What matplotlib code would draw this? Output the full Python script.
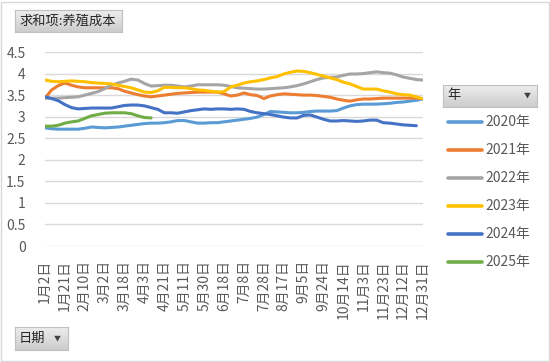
import numpy as np
import matplotlib
matplotlib.use('Agg')
import matplotlib.pyplot as plt
from matplotlib.patches import Rectangle
from matplotlib.lines import Line2D

plt.rcParams['font.family'] = ['Noto Sans CJK SC', 'DejaVu Sans']

# date labels shown on the axis (one every 3 points)
tick_labels = ['1月2日', '1月21日', '2月10日', '3月2日', '3月18日', '4月3日', '4月21日',
               '5月11日', '5月30日', '6月18日', '7月8日', '7月28日', '8月17日', '9月5日',
               '9月24日', '10月14日', '11月3日', '11月23日', '12月12日', '12月31日']
step = 3

years = ['2020年', '2021年', '2022年', '2023年', '2024年', '2025年']
colors = ['#5B9BD5', '#ED7D31', '#A5A5A5', '#FFC000', '#4472C4', '#70AD47']

y2020 = [2.74, 2.72, 2.71, 2.71, 2.71, 2.71, 2.73, 2.76, 2.75, 2.74, 2.75, 2.76, 2.78, 2.80,
         2.82, 2.84, 2.85, 2.85, 2.86, 2.88, 2.91, 2.91, 2.88, 2.85, 2.85, 2.86, 2.86, 2.88,
         2.90, 2.92, 2.94, 2.96, 2.99, 3.05, 3.12, 3.11, 3.10, 3.09, 3.09, 3.10, 3.12, 3.13,
         3.13, 3.13, 3.14, 3.20, 3.25, 3.28, 3.29, 3.29, 3.29, 3.30, 3.31, 3.33, 3.34, 3.36,
         3.38, 3.41]
y2021 = [3.43, 3.62, 3.72, 3.78, 3.73, 3.69, 3.67, 3.67, 3.67, 3.67, 3.67, 3.65, 3.59, 3.55,
         3.51, 3.48, 3.46, 3.48, 3.50, 3.52, 3.54, 3.55, 3.56, 3.57, 3.57, 3.57, 3.57, 3.53,
         3.48, 3.50, 3.55, 3.51, 3.49, 3.42, 3.48, 3.51, 3.53, 3.52, 3.51, 3.50, 3.50, 3.49,
         3.47, 3.45, 3.41, 3.38, 3.36, 3.39, 3.41, 3.41, 3.42, 3.43, 3.43, 3.43, 3.43, 3.43,
         3.43, 3.42]
y2022 = [3.43, 3.43, 3.43, 3.44, 3.45, 3.46, 3.50, 3.54, 3.58, 3.65, 3.73, 3.78, 3.82, 3.87,
         3.85, 3.77, 3.71, 3.72, 3.73, 3.73, 3.71, 3.69, 3.71, 3.74, 3.74, 3.74, 3.74, 3.73,
         3.70, 3.67, 3.66, 3.65, 3.64, 3.64, 3.65, 3.66, 3.67, 3.69, 3.72, 3.76, 3.81, 3.86,
         3.90, 3.91, 3.92, 3.96, 3.99, 3.99, 4.00, 4.02, 4.04, 4.02, 4.01, 3.97, 3.92, 3.89,
         3.86, 3.85]
y2023 = [3.85, 3.82, 3.81, 3.82, 3.83, 3.82, 3.81, 3.79, 3.78, 3.77, 3.76, 3.73, 3.70, 3.67,
         3.62, 3.57, 3.56, 3.60, 3.68, 3.68, 3.67, 3.67, 3.65, 3.62, 3.61, 3.59, 3.57, 3.58,
         3.69, 3.73, 3.78, 3.81, 3.83, 3.86, 3.90, 3.93, 3.99, 4.03, 4.06, 4.05, 4.02, 3.98,
         3.94, 3.90, 3.86, 3.80, 3.76, 3.70, 3.64, 3.64, 3.64, 3.60, 3.57, 3.53, 3.51, 3.50,
         3.46, 3.41]
y2024 = [3.46, 3.42, 3.37, 3.28, 3.21, 3.18, 3.19, 3.20, 3.20, 3.20, 3.20, 3.23, 3.26, 3.27,
         3.27, 3.25, 3.21, 3.17, 3.09, 3.09, 3.08, 3.11, 3.14, 3.16, 3.18, 3.17, 3.18, 3.18,
         3.17, 3.18, 3.17, 3.12, 3.09, 3.07, 3.05, 3.02, 2.99, 2.97, 2.97, 3.03, 3.04, 2.99,
         2.94, 2.90, 2.90, 2.91, 2.90, 2.89, 2.90, 2.92, 2.92, 2.86, 2.85, 2.83, 2.81, 2.80,
         2.79]
y2025 = [2.78, 2.78, 2.80, 2.85, 2.88, 2.90, 2.96, 3.02, 3.05, 3.08, 3.09, 3.09, 3.09, 3.07,
         3.02, 2.98, 2.97]

series = [y2020, y2021, y2022, y2023, y2024, y2025]

W, H = 550, 362
fig = plt.figure(figsize=(W / 100, H / 100), dpi=100)


def fx(x):
    return x / W


def fy(y):
    return 1 - y / H


n = (len(tick_labels) - 1) * step + 1
ax = fig.add_axes([fx(45), fy(246), fx(378), 194 / H])
for vals, c in zip(series, colors):
    ax.plot(np.arange(len(vals)), vals, color=c, lw=2.2, solid_capstyle='round', zorder=3)

ax.set_xlim(0, n - 1)
ax.set_ylim(0, 4.5)
yt = np.arange(0, 4.51, 0.5)
ax.set_yticks(yt)
ax.set_yticklabels(['{:g}'.format(v) for v in yt])
ax.set_xticks(np.arange(0, n, step))
ax.set_xticklabels(tick_labels, rotation=90, va='top', ha='center')
ax.grid(axis='y', color='#D9D9D9', lw=1)
ax.set_axisbelow(True)
for s in ax.spines.values():
    s.set_visible(False)
ax.tick_params(length=0, labelsize=10, colors='#595959')
ax.tick_params(axis='y', pad=14)
ax.tick_params(axis='x', pad=10)

# outer border
fig.add_artist(Rectangle((fx(1), fy(361)), fx(548), 359 / H, transform=fig.transFigure,
                         fill=False, edgecolor='#D9D9D9', lw=1))


def button(x0, y0, w, h, label, arrow_x=None):
    bax = fig.add_axes([fx(x0), fy(y0 + h), fx(w), h / H])
    grad = np.linspace(0.93, 0.80, 50).reshape(-1, 1)
    bax.imshow(grad, aspect='auto', cmap='gray', vmin=0, vmax=1, extent=[0, 1, 0, 1])
    bax.set_xticks([])
    bax.set_yticks([])
    for s in bax.spines.values():
        s.set_color('#C0C0C0')
        s.set_linewidth(0.8)
    fig.text(fx(x0 + 4), fy(y0 + h / 2), label, fontsize=9.5, color='#262626',
             va='center', ha='left')
    if arrow_x is not None:
        fig.text(fx(arrow_x), fy(y0 + h / 2), '▼', fontsize=5, color='#404040',
                 va='center', ha='center')


button(15, 10, 107, 22, '求和项:养殖成本')
button(15, 327, 53, 23, '日期', arrow_x=57)
button(443, 85, 94, 22, '年', arrow_x=527)

# legend
for k, (lab, c) in enumerate(zip(years, colors)):
    yy = fy(122 + 28 * k)
    fig.add_artist(Line2D([fx(448), fx(482)], [yy, yy], transform=fig.transFigure,
                          color=c, lw=2.6, solid_capstyle='round'))
    fig.text(fx(485), yy, lab, fontsize=10, color='#595959', va='center', ha='left')

fig.savefig('out.png', dpi=100)
